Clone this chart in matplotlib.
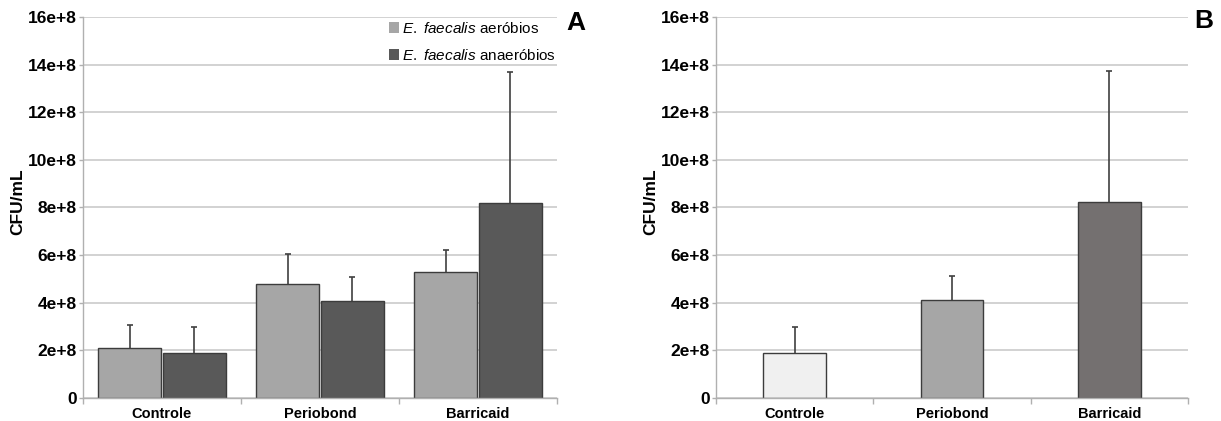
import numpy as np
import matplotlib
matplotlib.use("Agg")
import matplotlib.pyplot as plt
from matplotlib.ticker import FuncFormatter, FixedLocator

plt.rcParams['font.family'] = ['Liberation Sans', 'DejaVu Sans']
plt.rcParams['mathtext.fontset'] = 'custom'
plt.rcParams['mathtext.it'] = 'Liberation Sans:italic'
plt.rcParams['mathtext.rm'] = 'Liberation Sans'

# ---- data ----
categories = ["Controle", "Periobond", "Barricaid"]
series_labels = [r"$\mathit{E.}$ $\mathit{faecalis}$ aeróbios",
                 r"$\mathit{E.}$ $\mathit{faecalis}$ anaeróbios"]
aerobios = [2.08e8, 4.79e8, 5.29e8]
aerobios_err = [0.98e8, 1.26e8, 0.92e8]
anaerobios = [1.87e8, 4.06e8, 8.17e8]
anaerobios_err = [1.12e8, 1.02e8, 5.51e8]
b_values = [1.88e8, 4.12e8, 8.24e8]
b_err = [1.10e8, 0.98e8, 5.49e8]
y_ticks = [0, 2e8, 4e8, 6e8, 8e8, 10e8, 12e8, 14e8, 16e8]
ylabel = "CFU/mL"
panel_letters = ["A", "B"]

col_aero = "#a6a6a6"
col_anaero = "#595959"
b_colors = ["#f0f0f0", "#a6a6a6", "#747070"]
edge = "#3c3c3c"
grid_col = "#cfcfcf"
spine_col = "#b0b0b0"

fig = plt.figure(figsize=(12.21, 4.21), dpi=100)
bottom = 1 - 397.6 / 421
top = 1 - 17.3 / 421
axA = fig.add_axes([83 / 1221, bottom, (557 - 83) / 1221, top - bottom])
axB = fig.add_axes([716 / 1221, bottom, (1188 - 716) / 1221, top - bottom])

fmt = FuncFormatter(lambda v, p: "0" if v == 0 else f"{int(round(v / 1e8))}e+8")


def style(ax):
    n = len(categories)
    ax.set_xlim(-0.5, n - 0.5)
    ax.set_ylim(0, 16e8)
    ax.set_yticks(y_ticks)
    ax.yaxis.set_major_formatter(fmt)
    ax.set_xticks(np.arange(n))
    ax.set_xticklabels(categories)
    ax.xaxis.set_minor_locator(FixedLocator(np.arange(-0.5, n, 1.0)))
    ax.tick_params(axis='x', which='major', length=0, pad=7, labelsize=10.5)
    ax.tick_params(axis='x', which='minor', length=4, color=spine_col, width=1)
    ax.tick_params(axis='y', length=3, color=spine_col, width=1, pad=1.5, labelsize=12.5)
    for lab in ax.get_xticklabels() + ax.get_yticklabels():
        lab.set_fontweight('bold')
    ax.grid(axis='y', color=grid_col, linewidth=1.3, zorder=0)
    ax.set_axisbelow(True)
    for s in ['top', 'right']:
        ax.spines[s].set_visible(False)
    for s in ['left', 'bottom']:
        ax.spines[s].set_color(spine_col)
        ax.spines[s].set_linewidth(1)
    ax.set_ylabel(ylabel, fontsize=12.5, fontweight='bold')
    ax.yaxis.set_label_coords(-0.122, 0.515)


def up_errorbar(ax, xs, ys, errs):
    eb = ax.errorbar(xs, ys, yerr=[np.zeros(len(errs)), errs], fmt='none', zorder=1,
                     ecolor="#404040", elinewidth=1.2, capsize=2, capthick=1.2)
    caps = eb[1]
    if len(caps) >= 2:
        caps[0].set_visible(False)


x = np.arange(len(categories))
w = 0.4
off = 0.205

# Panel A
axA.bar(x - off, aerobios, w, color=col_aero, edgecolor=edge, linewidth=1,
        label=series_labels[0], zorder=2)
up_errorbar(axA, x - off, aerobios, aerobios_err)
axA.bar(x + off, anaerobios, w, color=col_anaero, edgecolor=edge, linewidth=1,
        label=series_labels[1], zorder=2)
up_errorbar(axA, x + off, anaerobios, anaerobios_err)
style(axA)
axA.legend(loc='upper right', bbox_to_anchor=(1.005, 1.0), frameon=False, fontsize=11,
           handlelength=0.7, handleheight=0.7, handletextpad=0.15,
           labelspacing=0.75, borderaxespad=0.1, borderpad=0.15)
for h in axA.get_legend().legend_handles:
    h.set_edgecolor('none')

# Panel B
axB.bar(x, b_values, w, color=b_colors, edgecolor=edge, linewidth=1, zorder=2)
up_errorbar(axB, x, b_values, b_err)
style(axB)

fig.text(576 / 1221, 1 - 23 / 421, panel_letters[0], fontsize=19, fontweight='bold',
         ha='center', va='center')
fig.text(1204 / 1221, 1 - 21 / 421, panel_letters[1], fontsize=19, fontweight='bold',
         ha='center', va='center')

fig.savefig("out.png", dpi=100)
